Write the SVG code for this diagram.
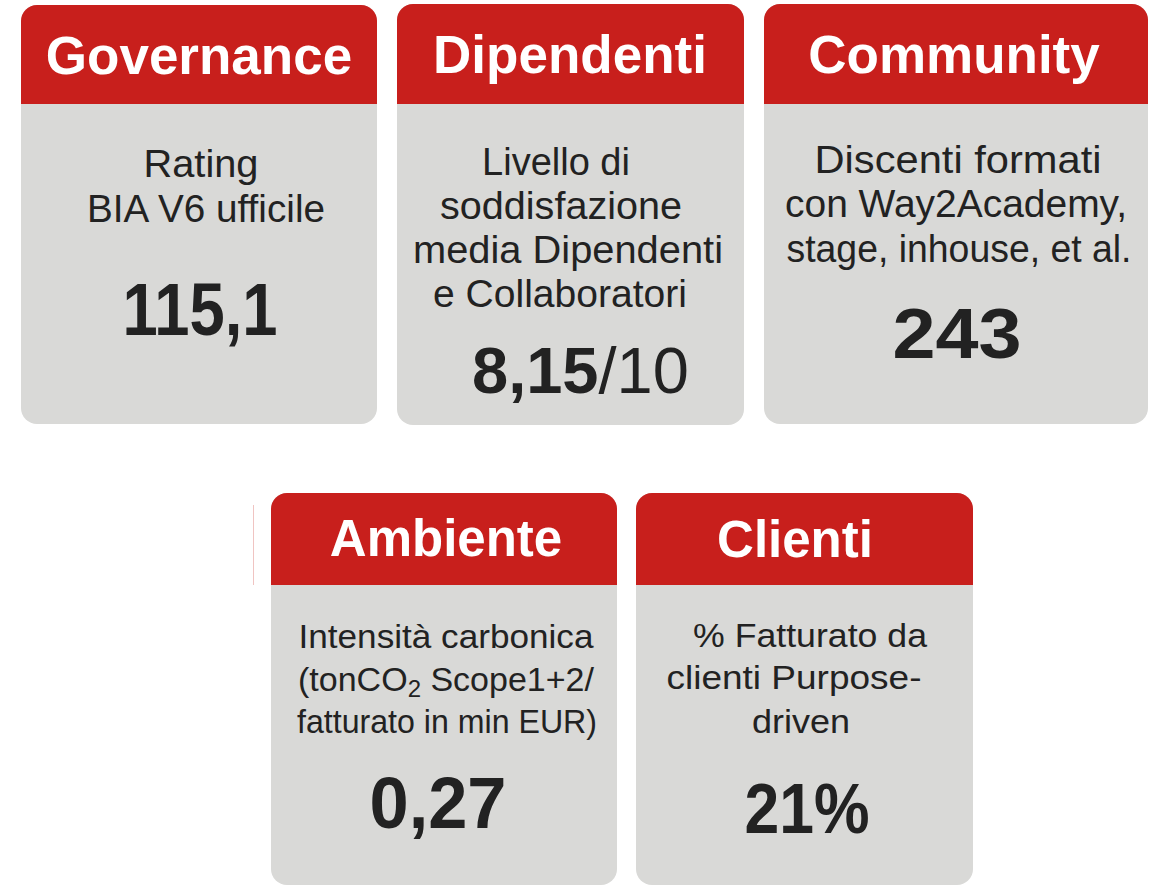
<svg xmlns="http://www.w3.org/2000/svg" width="1150" height="886" viewBox="0 0 1150 886">
  <style>
    .card { fill: #d9d9d7; }
    .head { fill: #c81f1c; }
    .title { font-family: "Liberation Sans", Arial, sans-serif; font-weight: bold; fill: #ffffff; text-anchor: middle; }
    .body { font-family: "Liberation Sans", Arial, sans-serif; font-size: 38px; fill: #222222; text-anchor: middle; }
    .body2 { font-family: "Liberation Sans", Arial, sans-serif; font-size: 34px; fill: #222222; text-anchor: middle; }
    .num { font-family: "Liberation Sans", Arial, sans-serif; font-weight: bold; fill: #222222; text-anchor: middle; }
  </style>
  <rect width="1150" height="886" fill="#ffffff"/>
  <line x1="253.5" y1="505" x2="253.5" y2="585" stroke="#f0c4c2" stroke-width="1"/>

  <g id="governance">
    <rect class="card" x="21" y="5" width="356" height="419" rx="16"/>
    <path class="head" d="M21,104 V21 A16,16 0 0 1 37,5 H361 A16,16 0 0 1 377,21 V104 Z"/>
    <text class="title" x="199" y="74" font-size="53">Governance</text>
    <text class="body" x="201" y="177" textLength="115" lengthAdjust="spacingAndGlyphs">Rating</text>
    <text class="body" x="206" y="222" textLength="238" lengthAdjust="spacingAndGlyphs">BIA V6 ufficile</text>
    <text class="num" x="200" y="335" font-size="74" textLength="155" lengthAdjust="spacingAndGlyphs">115,1</text>
  </g>

  <g id="dipendenti">
    <rect class="card" x="397" y="4" width="347" height="421" rx="16"/>
    <path class="head" d="M397,104 V20 A16,16 0 0 1 413,4 H728 A16,16 0 0 1 744,20 V104 Z"/>
    <text class="title" x="570" y="73" font-size="53">Dipendenti</text>
    <text class="body" x="556" y="175" font-size="40">Livello di</text>
    <text class="body" x="561" y="219" textLength="242" lengthAdjust="spacingAndGlyphs">soddisfazione</text>
    <text class="body" x="568" y="263" textLength="310" lengthAdjust="spacingAndGlyphs">media Dipendenti</text>
    <text class="body" x="560" y="307" textLength="254" lengthAdjust="spacingAndGlyphs">e Collaboratori</text>
    <text class="num" x="472" y="393" font-size="65" style="text-anchor:start">8,15<tspan font-weight="normal">/10</tspan></text>
  </g>

  <g id="community">
    <rect class="card" x="764" y="4" width="384" height="420" rx="16"/>
    <path class="head" d="M764,104 V20 A16,16 0 0 1 780,4 H1132 A16,16 0 0 1 1148,20 V104 Z"/>
    <text class="title" x="954" y="73" font-size="53">Community</text>
    <text class="body" x="958" y="173" textLength="287" lengthAdjust="spacingAndGlyphs">Discenti formati</text>
    <text class="body" x="956" y="217" textLength="342" lengthAdjust="spacingAndGlyphs">con Way2Academy,</text>
    <text class="body" x="959" y="262" textLength="345" lengthAdjust="spacingAndGlyphs">stage, inhouse, et al.</text>
    <text class="num" x="957" y="358" font-size="70" textLength="129" lengthAdjust="spacingAndGlyphs">243</text>
  </g>

  <g id="ambiente">
    <rect class="card" x="271" y="493" width="346" height="392" rx="16"/>
    <path class="head" d="M271,585 V509 A16,16 0 0 1 287,493 H601 A16,16 0 0 1 617,509 V585 Z"/>
    <text class="title" x="446" y="556" font-size="51">Ambiente</text>
    <text class="body2" x="446" y="648" textLength="295" lengthAdjust="spacingAndGlyphs">Intensità carbonica</text>
    <text class="body2" x="446" y="691">(tonCO<tspan font-size="24" dy="6">2</tspan><tspan dy="-6"> Scope1+2/</tspan></text>
    <text class="body2" x="447" y="733" textLength="300" lengthAdjust="spacingAndGlyphs">fatturato in min EUR)</text>
    <text class="num" x="438" y="828" font-size="72" textLength="137" lengthAdjust="spacingAndGlyphs">0,27</text>
  </g>

  <g id="clienti">
    <rect class="card" x="636" y="493" width="337" height="392" rx="16"/>
    <path class="head" d="M636,585 V509 A16,16 0 0 1 652,493 H957 A16,16 0 0 1 973,509 V585 Z"/>
    <text class="title" x="795" y="557" font-size="51">Clienti</text>
    <text class="body2" x="810" y="647" font-size="35" textLength="234" lengthAdjust="spacingAndGlyphs">% Fatturato da</text>
    <text class="body2" x="794" y="689" font-size="35" textLength="255" lengthAdjust="spacingAndGlyphs">clienti Purpose-</text>
    <text class="body2" x="801" y="733" font-size="35" textLength="98" lengthAdjust="spacingAndGlyphs">driven</text>
    <text class="num" x="807" y="833" font-size="71" textLength="125" lengthAdjust="spacingAndGlyphs">21%</text>
  </g>

  <g id="connectors"/>
</svg>
